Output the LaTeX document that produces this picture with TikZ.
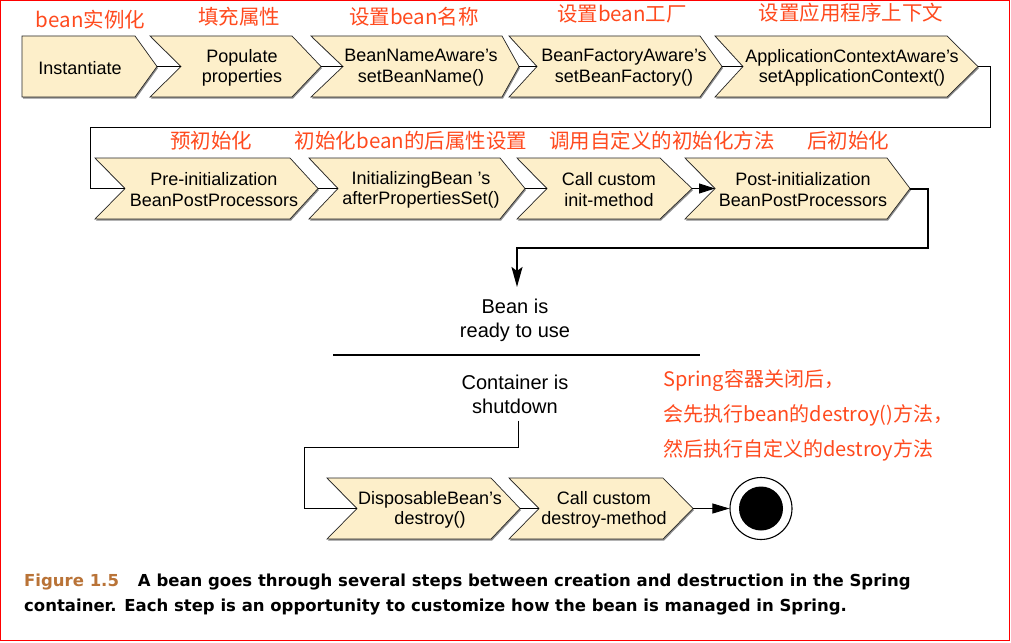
\documentclass[tikz,border=0pt]{standalone}
\usepackage{fontspec}
\setmainfont{Liberation Sans}
\newfontfamily\cjk{Noto Sans CJK SC}
\newfontfamily\capfont{DejaVu Sans}
\usetikzlibrary{arrows.meta}
\definecolor{chevfill}{RGB}{253,239,202}
\definecolor{labred}{RGB}{255,74,30}
\definecolor{figbrown}{RGB}{185,115,55}
\tikzset{
  chev/.style={fill=chevfill, draw=black!85, line width=0.7pt, line join=miter},
  chevshadow/.style={fill=black!45},
  boxtext/.style={font=\fontsize{18}{20.5}\selectfont, align=center, inner sep=0pt},
  redlab/.style={font=\cjk\fontsize{20.5}{24}\selectfont, text=labred, inner sep=0pt},
  rednote/.style={font=\cjk\fontsize{20}{24}\selectfont, text=labred, inner sep=0pt, anchor=west},
  midtext/.style={font=\fontsize{20}{24}\selectfont, align=center, inner sep=0pt},
  conn/.style={draw=black, line width=0.8pt},
  capline/.style={font=\capfont\bfseries\fontsize{16.5}{25}\selectfont, anchor=base west, inner sep=0pt},
}
% name, xl, notch, xr, tip, text-x, text
\newcommand{\chevron}[7]{%
  \fill[chevshadow] (#2+1,\rowT+1.6) -- (#4+1,\rowT+1.6) -- (#4+#5+1,\rowM+1.6) -- (#4+1,\rowB+1.6) -- (#2+1,\rowB+1.6) -- (#2+#3+1,\rowM+1.6) -- cycle;
  \draw[chev] (#2,\rowT) -- (#4,\rowT) -- (#4+#5,\rowM) -- (#4,\rowB) -- (#2,\rowB) -- (#2+#3,\rowM) -- cycle;
  \coordinate (#1-in) at (#2+#3,\rowM);
  \coordinate (#1-out) at (#4+#5,\rowM);
  \node[boxtext] (#1) at (#6,\rowM+1.2) {#7};
}
\begin{document}
\begin{tikzpicture}[x=1pt,y=-1pt]
\useasboundingbox (0,0) rectangle (1011,642);
\fill[white] (0,0) rectangle (1011,642);
\draw[red, line width=1pt] (0.5,0.5) rectangle (1009.5,640.5);

% ---- row 1
\def\rowT{36}\def\rowB{97}\def\rowM{66.5}
\chevron{s1}{22}{0}{135}{22}{80}{Instantiate}
\chevron{s2}{150}{31}{292}{29}{242}{Populate\\properties}
\chevron{s3}{311}{32}{502}{17}{421}{BeanNameAware’s\\setBeanName()}
\chevron{s4}{509}{28}{700}{22}{624}{BeanFactoryAware’s\\setBeanFactory()}
\chevron{s5}{715}{28}{947}{31}{852}{ApplicationContextAware’s\\setApplicationContext()}

% ---- row 2
\def\rowT{158}\def\rowB{219}\def\rowM{188.5}
\chevron{p1}{95}{30}{290}{28}{214}{Pre-initialization\\BeanPostProcessors}
\chevron{p2}{309}{29}{500}{25}{421}{InitializingBean ’s\\afterPropertiesSet()}
\chevron{p3}{517}{30}{660}{32}{609}{Call custom\\init-method}
\chevron{p4}{685}{30}{887}{23}{803}{Post-initialization\\BeanPostProcessors}

% ---- row 3
\def\rowT{478}\def\rowB{539}\def\rowM{508.5}
\chevron{d1}{327}{30}{491}{29}{430}{DisposableBean’s\\destroy()}
\chevron{d2}{509}{30}{663}{30}{604}{Call custom\\destroy-method}

% ---- red labels
\node[redlab] (l1) at (90.5,20) {bean实例化};
\node[redlab] (l2) at (239,17) {填充属性};
\node[redlab] (l3) at (414,17) {设置bean名称};
\node[redlab] (l4) at (622,14) {设置bean工厂};
\node[redlab] (l5) at (851,13) {设置应用程序上下文};
\node[redlab] (l6) at (211,141) {预初始化};
\node[redlab] (l7) at (411,141) {初始化bean的后属性设置};
\node[redlab] (l8) at (662,141) {调用自定义的初始化方法};
\node[redlab] (l9) at (848,141) {后初始化};

\node[rednote] (n1) at (663,381) {Spring容器关闭后，};
\node[rednote] (n2) at (663,415) {会先执行bean的destroy()方法，};
\node[rednote] (n3) at (663,450) {然后执行自定义的destroy方法};

% ---- middle
\node[midtext] (ready) at (515,320) {Bean is\\ready to use};
\draw[line width=2pt] (333,355) -- (700,355);
\node[midtext] (shutdown) at (515,394) {Container is\\shutdown};

% ---- end state
\node[circle, draw, line width=1.1pt, minimum size=62pt, inner sep=0pt] (endc) at (761,508.5) {};
\node[circle, fill=black, minimum size=44pt, inner sep=0pt] (endin) at (endc.center) {};

% ---- connectors
\draw[conn] (s1-out) -- (s2-in);
\draw[conn] (s2-out) -- (s3-in);
\draw[conn] (s3-out) -- (s4-in);
\draw[conn] (s4-out) -- (s5-in);
\coordinate (bendC) at (990,127);
\coordinate (bendD) at (90,127);
\draw[conn] (s5-out) -| (bendC) -- (bendD) |- (p1-in);
\draw[conn] (p1-out) -- (p2-in);
\draw[conn] (p2-out) -- (p3-in);
\draw[conn, -{Triangle[length=16pt,width=10pt]}] (p3-out) -- (p4-in);
\coordinate (bendB) at (928,248);
\draw[line width=2pt, -{Stealth[length=20pt,width=11pt,inset=4pt]}] (p4-out) -| (bendB) -| ([xshift=2pt,yshift=11.5pt]ready.north);
\coordinate (bendA) at (304,447);
\draw[conn] ([xshift=3pt,yshift=-7pt]shutdown.south) |- (bendA) |- (d1-in);
\draw[conn] (d1-out) -- (d2-in);
\draw[conn, -{Triangle[length=17pt,width=10pt]}] (d2-out) -- (endc);

% ---- caption
\node[capline] (cap1) at (24,586) {\textcolor{figbrown}{Figure 1.5}\hspace{19pt}A bean goes through several steps between creation and destruction in the Spring};
\node[capline] (cap2) at (24,611) {container. Each step is an opportunity to customize how the bean is managed in Spring.};
\end{tikzpicture}
\end{document}
